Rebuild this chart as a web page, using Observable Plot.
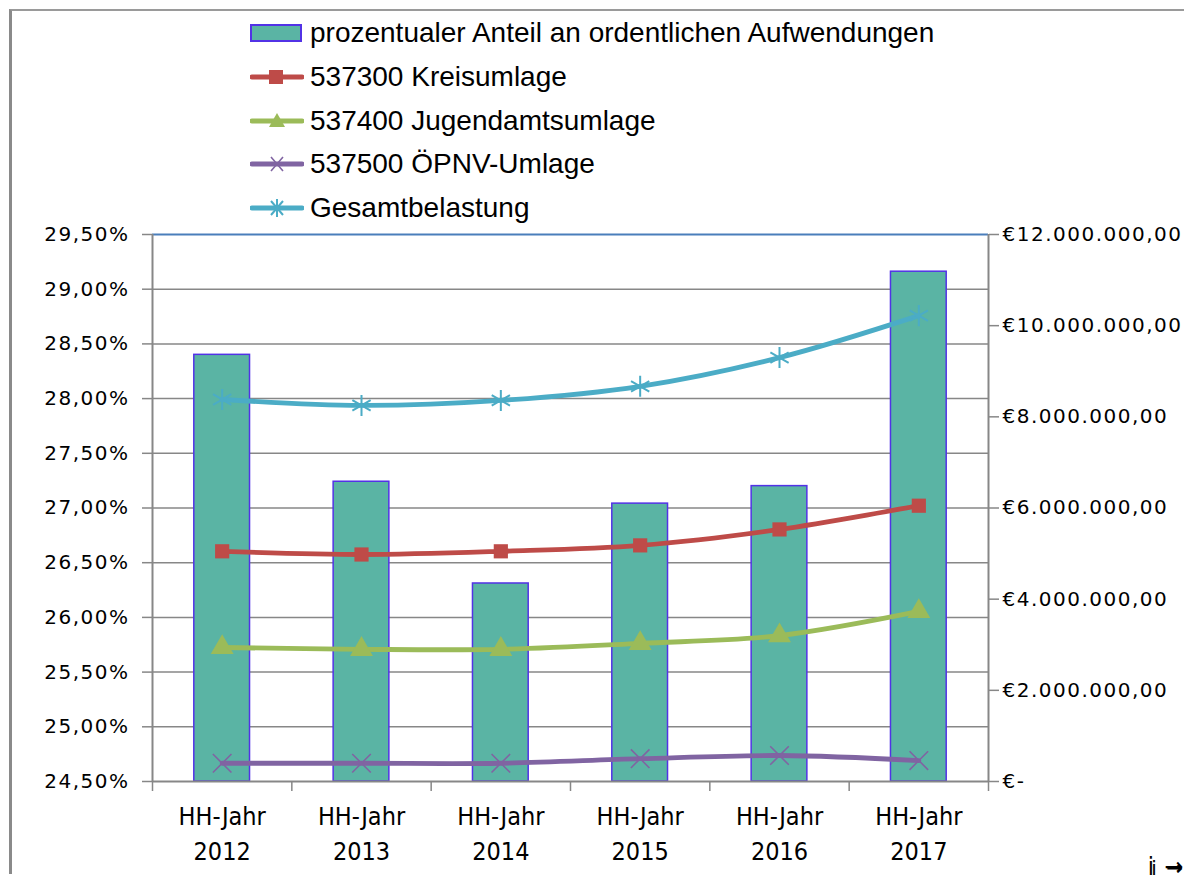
<!DOCTYPE html>
<html>
<head>
<meta charset="utf-8">
<script src="https://cdn.jsdelivr.net/npm/d3@7"></script>
<script src="https://cdn.jsdelivr.net/npm/@observablehq/plot@0.6"></script>
<style>
html,body{margin:0;padding:0;background:#fff;overflow:hidden;width:1187px;height:877px;}
#wrap{position:fixed;left:0;top:0;z-index:2147483000;width:1187px;height:877px;overflow:hidden;background:#fff;}
#frame{position:absolute;left:9px;top:9px;width:1175px;height:865px;border-left:3px solid #8a8a8a;border-top:2px solid #9a9a9a;pointer-events:none;box-sizing:border-box;}
#legend{position:absolute;left:0;top:0;width:1187px;height:226px;font-family:"Liberation Sans",Arial,sans-serif;font-size:28px;color:#000;z-index:2;}
.item{position:absolute;left:250px;height:34px;display:flex;align-items:center;white-space:nowrap;}
.item svg{margin-right:6px;flex:none;}
#chart{position:absolute;left:0;top:0;}
#chart svg{display:block;}
#chart text{letter-spacing:1.5px;}
#chart g[aria-label="x-axis tick label"] text{letter-spacing:0;}
</style>
</head>
<body>
<div id="wrap">
  <div id="chart"></div>
  <div id="legend"></div>
  <div id="frame"></div>
</div>
<script>
// ---- data ----
const years = ["2012", "2013", "2014", "2015", "2016", "2017"];
const categoryPrefix = "HH-Jahr";
const anteil = [28.40, 27.24, 26.31, 27.04, 27.20, 29.16]; // % (left axis)
const kreisumlage = [5050000, 4980000, 5050000, 5180000, 5530000, 6050000];
const jugendamtsumlage = [2940000, 2900000, 2900000, 3030000, 3200000, 3730000];
const oepnvUmlage = [400000, 400000, 400000, 500000, 570000, 460000];
const gesamtbelastung = [8380000, 8250000, 8360000, 8670000, 9300000, 10220000];

const pctTicks = [24.5, 25, 25.5, 26, 26.5, 27, 27.5, 28, 28.5, 29, 29.5];
const pctLabels = ["24,50%", "25,00%", "25,50%", "26,00%", "26,50%", "27,00%", "27,50%", "28,00%", "28,50%", "29,00%", "29,50%"];
const euroTicks = [0, 2000000, 4000000, 6000000, 8000000, 10000000, 12000000];
const euroLabels = ["€-", "€2.000.000,00", "€4.000.000,00", "€6.000.000,00", "€8.000.000,00", "€10.000.000,00", "€12.000.000,00"];

const seriesNames = ["prozentualer Anteil an ordentlichen Aufwendungen", "537300 Kreisumlage", "537400 Jugendamtsumlage", "537500 ÖPNV-Umlage", "Gesamtbelastung"];

// ---- styles ----
const barFill = "#5AB4A4", barStroke = "#5232E6";
const cKreis = "#BE4B48", cJugend = "#9BBB59", cOepnv = "#8064A2", cGesamt = "#4BACC6";
const grid = "#878787";

// secondary (euro) axis mapped onto the percent scale
const pMin = pctTicks[0], pMax = pctTicks[pctTicks.length - 1];
const eMax = euroTicks[euroTicks.length - 1];
const toPct = v => pMin + v / eMax * (pMax - pMin);

const rows = years.map((y, i) => ({
  i, year: y, pct: anteil[i],
  kreis: toPct(kreisumlage[i]), jugend: toPct(jugendamtsumlage[i]),
  oepnv: toPct(oepnvUmlage[i]), gesamt: toPct(gesamtbelastung[i])
}));
const centers = years.map((_, i) => i);
const bounds = years.map((_, i) => i - 0.5).concat([years.length - 0.5]);

const lineOpts = {x: "i", strokeWidth: 4.8, curve: "catmull-rom", strokeLinecap: "round", strokeLinejoin: "round"};

const chart = Plot.plot({
  width: 1187, height: 877,
  marginTop: 234, marginBottom: 96, marginLeft: 152, marginRight: 199,
  style: {fontFamily: "DejaVu Sans, Verdana, sans-serif", fontSize: "20px", color: "#000", background: "transparent"},
  x: {domain: [-0.5, years.length - 0.5], axis: null},
  y: {domain: [pMin, pMax], axis: null},
  marks: [
    Plot.ruleY(pctTicks.slice(1, -1), {stroke: grid, strokeWidth: 1.5}),
    Plot.ruleY([pMax], {stroke: "#4A7EBB", strokeWidth: 2}),
    Plot.rectY(rows, {x1: d => d.i - 0.2, x2: d => d.i + 0.2, y1: () => pMin, y2: "pct", fill: barFill, stroke: barStroke, strokeWidth: 1.5}),
    Plot.ruleX([-0.5, years.length - 0.5], {stroke: grid, strokeWidth: 2}),
    Plot.ruleY([pMin], {stroke: grid, strokeWidth: 2}),
    Plot.axisY(pctTicks, {anchor: "left", tickSize: 10, tickPadding: 13, stroke: grid, strokeWidth: 1.5, fill: "#000", fontSize: 20,
      tickFormat: d => pctLabels[pctTicks.findIndex(t => Math.abs(t - d) < 1e-9)]}),
    Plot.axisY(euroTicks.map(toPct), {anchor: "right", tickSize: 10, tickPadding: 4, stroke: grid, strokeWidth: 1.5, fill: "#000", fontSize: 20,
      tickFormat: d => euroLabels[euroTicks.findIndex(t => Math.abs(toPct(t) - d) < 1e-9)]}),
    Plot.axisX(bounds, {anchor: "bottom", tickSize: 10, stroke: grid, strokeWidth: 1.5, tickFormat: () => ""}),
    Plot.axisX(centers, {anchor: "bottom", tickSize: 0, tickPadding: 19, fill: "#000",
      fontFamily: "Liberation Sans Narrow, DejaVu Sans Condensed, Arial Narrow, sans-serif", fontSize: 25, lineHeight: 1.4,
      tickFormat: i => categoryPrefix + "\n" + years[i]}),
    Plot.line(rows, {...lineOpts, y: "kreis", stroke: cKreis}),
    Plot.dot(rows, {x: "i", y: "kreis", symbol: "square", r: 8, fill: cKreis, stroke: "none"}),
    Plot.line(rows, {...lineOpts, y: "jugend", stroke: cJugend}),
    Plot.dot(rows, {x: "i", y: "jugend", symbol: "triangle", r: 8.5, fill: cJugend, stroke: "none"}),
    Plot.line(rows, {...lineOpts, y: "oepnv", stroke: cOepnv}),
    Plot.dot(rows, {x: "i", y: "oepnv", symbol: "times", r: 8.5, fill: "none", stroke: cOepnv, strokeWidth: 1.6}),
    Plot.line(rows, {...lineOpts, y: "gesamt", stroke: cGesamt}),
    Plot.dot(rows, {x: "i", y: "gesamt", symbol: "asterisk", r: 10, fill: "none", stroke: cGesamt, strokeWidth: 2})
  ]
});
document.getElementById("chart").appendChild(chart);

// ---- legend (HTML) ----
const legend = document.getElementById("legend");
const swatches = [
  `<rect x="1" y="9" width="50" height="16" fill="${barFill}" stroke="${barStroke}" stroke-width="2"/>`,
  `<line x1="2" y1="17" x2="52" y2="17" stroke="${cKreis}" stroke-width="5" stroke-linecap="round"/><rect x="19" y="10" width="14" height="14" fill="${cKreis}"/>`,
  `<line x1="2" y1="17" x2="52" y2="17" stroke="${cJugend}" stroke-width="5" stroke-linecap="round"/><path d="M27,9 L35,23 L19,23 Z" fill="${cJugend}"/>`,
  `<line x1="2" y1="17" x2="52" y2="17" stroke="${cOepnv}" stroke-width="5" stroke-linecap="round"/><path d="M21,10 L33,24 M33,10 L21,24" stroke="${cOepnv}" stroke-width="1.6"/>`,
  `<line x1="2" y1="17" x2="52" y2="17" stroke="${cGesamt}" stroke-width="5" stroke-linecap="round"/><path d="M21,10 L33,24 M33,10 L21,24 M27,8 L27,26" stroke="${cGesamt}" stroke-width="2"/>`
];
const rowCenters = [33, 77, 121, 164, 208];
seriesNames.forEach((name, k) => {
  const div = document.createElement("div");
  div.className = "item";
  div.style.top = (rowCenters[k] - 17) + "px";
  div.innerHTML = `<svg width="54" height="34" viewBox="0 0 54 34">${swatches[k]}</svg><span>${name}</span>`;
  legend.appendChild(div);
});
</script>
</body>
</html>
